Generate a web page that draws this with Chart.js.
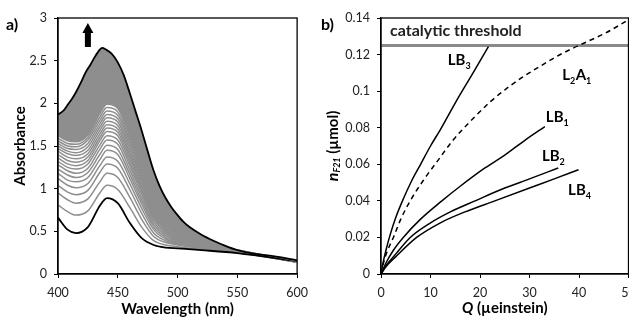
<!DOCTYPE html>
<html>
<head>
<meta charset="utf-8">
<script src="https://cdn.jsdelivr.net/npm/chart.js@4.4.1/dist/chart.umd.min.js"></script>
<style>
  html, body { margin: 0; padding: 0; background: #fff; overflow: hidden; width: 629px; height: 319px; }
  canvas { position: absolute; top: 0; }
  #chartA { left: 0; }
  #chartB { left: 315px; }
  .panel { position: absolute; font: bold 16px Lato, sans-serif; line-height: 16px; color: #000; }
</style>
</head>
<body>
<canvas id="chartA" width="315" height="319"></canvas>
<canvas id="chartB" width="330" height="319"></canvas>
<div class="panel" style="left:6px; top:16px;">a)</div>
<div class="panel" style="left:321px; top:16px;">b)</div>
<script>
// ---- panel a : absorbance spectra ----
const wlGrid = [400, 408, 415, 425, 435, 441, 450, 460, 470, 480, 490, 500, 520, 550, 600];
const absFirst = [0.66, 0.52, 0.48, 0.55, 0.80, 0.89, 0.83, 0.60, 0.42, 0.34, 0.31, 0.30, 0.28, 0.245, 0.15];
const absGray = [
  [0.81, 0.73, 0.69, 0.74, 0.95, 1.04, 0.99, 0.78, 0.55, 0.39, 0.34, 0.32, 0.29, 0.25, 0.14],
  [0.95, 0.87, 0.83, 0.88, 1.08, 1.18, 1.13, 0.90, 0.64, 0.44, 0.37, 0.34, 0.30, 0.255, 0.14],
  [1.04, 0.96, 0.93, 0.98, 1.19, 1.29, 1.24, 0.99, 0.71, 0.48, 0.39, 0.35, 0.305, 0.255, 0.14],
  [1.12, 1.04, 1.01, 1.06, 1.27, 1.37, 1.32, 1.06, 0.77, 0.52, 0.41, 0.36, 0.31, 0.26, 0.14],
  [1.18, 1.10, 1.08, 1.13, 1.34, 1.45, 1.40, 1.12, 0.82, 0.55, 0.43, 0.37, 0.31, 0.26, 0.14],
  [1.23, 1.16, 1.13, 1.19, 1.40, 1.51, 1.46, 1.17, 0.86, 0.58, 0.45, 0.38, 0.32, 0.26, 0.14],
  [1.28, 1.21, 1.18, 1.24, 1.46, 1.57, 1.52, 1.22, 0.90, 0.61, 0.47, 0.39, 0.32, 0.265, 0.14],
  [1.32, 1.25, 1.23, 1.29, 1.51, 1.62, 1.57, 1.27, 0.94, 0.64, 0.49, 0.40, 0.33, 0.265, 0.14],
  [1.36, 1.29, 1.27, 1.33, 1.56, 1.67, 1.62, 1.31, 0.97, 0.66, 0.50, 0.41, 0.33, 0.27, 0.14],
  [1.40, 1.33, 1.31, 1.37, 1.60, 1.71, 1.66, 1.35, 1.00, 0.68, 0.52, 0.42, 0.34, 0.27, 0.14],
  [1.44, 1.37, 1.35, 1.41, 1.64, 1.75, 1.70, 1.39, 1.03, 0.70, 0.53, 0.43, 0.34, 0.27, 0.14],
  [1.47, 1.41, 1.39, 1.45, 1.68, 1.79, 1.74, 1.42, 1.06, 0.72, 0.54, 0.44, 0.35, 0.27, 0.14],
  [1.50, 1.44, 1.42, 1.49, 1.72, 1.83, 1.78, 1.46, 1.09, 0.74, 0.56, 0.45, 0.35, 0.275, 0.14],
  [1.53, 1.47, 1.46, 1.53, 1.76, 1.87, 1.82, 1.50, 1.12, 0.76, 0.57, 0.46, 0.36, 0.275, 0.14],
  [1.56, 1.50, 1.49, 1.57, 1.80, 1.91, 1.86, 1.54, 1.15, 0.78, 0.58, 0.47, 0.36, 0.28, 0.145],
  [1.59, 1.53, 1.52, 1.60, 1.84, 1.95, 1.90, 1.57, 1.18, 0.80, 0.60, 0.48, 0.37, 0.28, 0.145],
  [1.62, 1.56, 1.55, 1.63, 1.88, 1.99, 1.94, 1.61, 1.21, 0.82, 0.61, 0.49, 0.37, 0.28, 0.145]
];
const wlLast = [400, 405, 408, 412, 415, 419, 423, 427, 431, 435, 437, 440, 445, 450, 455, 460, 465, 470, 475, 480, 485, 490, 495, 500, 505, 510, 520, 530, 540, 550, 565, 580, 600];
const absLast = [1.87, 1.92, 1.98, 2.06, 2.13, 2.24, 2.36, 2.45, 2.55, 2.63, 2.65, 2.63, 2.58, 2.48, 2.33, 2.12, 1.90, 1.68, 1.44, 1.21, 1.03, 0.89, 0.78, 0.69, 0.61, 0.55, 0.46, 0.39, 0.33, 0.28, 0.235, 0.21, 0.16];
const aTicksX = [400, 450, 500, 550, 600];
const aTicksY = [0, 0.5, 1, 1.5, 2, 2.5, 3];

// ---- panel b : n_F21 vs Q ----
const qLB3 = [0, 0.4, 1, 1.8, 3, 4.5, 6.2, 8, 10, 12, 15.3, 18.6, 21.7];
const nLB3 = [0, 0.006, 0.013, 0.021, 0.031, 0.041, 0.051, 0.06, 0.07, 0.079, 0.095, 0.11, 0.1243];
const qL2A1 = [0, 0.5, 1.2, 2.5, 4, 5.9, 8.5, 11.2, 14.5, 18.6, 22, 25.4, 28.5, 32.1, 35.5, 38.8, 41.6, 45.5, 50];
const nL2A1 = [0, 0.006, 0.012, 0.02, 0.03, 0.04, 0.051, 0.061, 0.073, 0.085, 0.094, 0.1015, 0.1075, 0.1135, 0.119, 0.1235, 0.127, 0.132, 0.139];
const qLB1 = [0, 1, 2.5, 4.5, 8, 12.3, 16, 21, 25, 29, 33.1];
const nLB1 = [0, 0.006, 0.013, 0.02, 0.03, 0.04, 0.048, 0.058, 0.065, 0.073, 0.0806];
const qLB2 = [0, 1, 3, 5.9, 10, 14, 19, 25, 30, 35.8];
const nLB2 = [0, 0.0045, 0.011, 0.02, 0.028, 0.034, 0.04, 0.047, 0.052, 0.058];
const qLB4 = [0, 1, 3, 7.2, 12, 17, 23, 30, 35, 39.9];
const nLB4 = [0, 0.004, 0.0095, 0.02, 0.028, 0.034, 0.04, 0.047, 0.052, 0.057];
const threshold = 0.125;
const bTicksX = [0, 10, 20, 30, 40, 50];
const bTicksY = [0, 0.02, 0.04, 0.06, 0.08, 0.1, 0.12, 0.14];

const GRAY = '#8e8e8e';
const FONT = 'Lato, sans-serif';
Chart.defaults.font.family = FONT;
Chart.defaults.color = '#222';

const pts = (xs, ys) => xs.map((x, i) => ({ x: x, y: ys[i] }));

const chartAreaBorder = {
    id: 'chartAreaBorder',
    afterDatasetsDraw(chart) {
        const { ctx, chartArea: { left, top, width, height } } = chart;
        ctx.save();
        ctx.strokeStyle = '#000';
        ctx.lineWidth = 1.3;
        ctx.strokeRect(left, top, width, height);
        ctx.restore();
    }
};

function axis(ticks, size, extra) {
    return Object.assign({
        type: 'linear',
        min: ticks[0],
        max: ticks[ticks.length - 1],
        afterBuildTicks: (s) => { s.ticks = ticks.map(v => ({ value: v })); },
        afterFit: (s) => { if (s.isHorizontal()) s.height = size; else s.width = size; },
        grid: { display: true, drawOnChartArea: false, drawTicks: true, tickLength: 4, color: '#000' },
        border: { display: true, color: '#000', width: 1.3 },
        ticks: { font: { size: 12.5 }, color: '#222', padding: 7, callback: (v) => String(+v.toFixed(3)) }
    }, extra);
}

// arrow above the spectra
const upArrow = {
    id: 'upArrow',
    afterDraw(chart) {
        const { ctx, scales: { x, y } } = chart;
        const cx = x.getPixelForValue(425);
        const yTop = y.getPixelForValue(2.94);
        const yBot = y.getPixelForValue(2.66);
        ctx.save();
        ctx.fillStyle = '#000';
        ctx.fillRect(cx - 3, yTop + 9, 6, yBot - yTop - 9);
        ctx.beginPath();
        ctx.moveTo(cx, yTop);
        ctx.lineTo(cx + 5.5, yTop + 10);
        ctx.lineTo(cx - 5.5, yTop + 10);
        ctx.closePath();
        ctx.fill();
        ctx.restore();
    }
};

const grayIndexTop = 2 + absGray.length - 1;
const datasetsA = [
    { data: pts(wlLast, absLast), borderColor: '#000', borderWidth: 1.8, fill: { target: grayIndexTop }, backgroundColor: GRAY },
    { data: pts(wlGrid, absFirst), borderColor: '#000', borderWidth: 1.8, fill: false }
].concat(absGray.map(row => ({ data: pts(wlGrid, row), borderColor: GRAY, borderWidth: 1.5, fill: false })));

new Chart(document.getElementById('chartA'), {
    type: 'line',
    data: { datasets: datasetsA },
    options: {
        responsive: false,
        animation: false,
        devicePixelRatio: 1,
        layout: { padding: { top: 18, right: 8, left: 0, bottom: 0 } },
        elements: { point: { radius: 0 }, line: { cubicInterpolationMode: 'monotone' } },
        plugins: { legend: { display: false }, tooltip: { enabled: false } },
        scales: {
            x: axis(aTicksX, 45, { title: { display: true, text: 'Wavelength (nm)', color: '#000', font: { size: 15, weight: 'bold' }, padding: { top: 0, bottom: 1 } } }),
            y: axis(aTicksY, 58, { title: { display: true, text: 'Absorbance', color: '#000', font: { size: 15, weight: 'bold' }, padding: { top: 11, bottom: 0 } } })
        }
    },
    plugins: [chartAreaBorder, upArrow]
});

// ---- text annotations for panel b ----
const curveLabels = [
    { parts: [['LB', 0], ['3', 1]], q: 13.5, n: 0.1143 },
    { parts: [['L', 0], ['2', 1], ['A', 0], ['1', 1]], q: 36.6, n: 0.1061 },
    { parts: [['LB', 0], ['1', 1]], q: 33.3, n: 0.0831 },
    { parts: [['LB', 0], ['2', 1]], q: 32.5, n: 0.0618 },
    { parts: [['LB', 0], ['4', 1]], q: 37.8, n: 0.0432 }
];

function drawParts(ctx, parts, x, y) {
    let cx = x;
    parts.forEach(([t, sub]) => {
        ctx.font = sub ? 'bold 9px ' + FONT : 'bold 15px ' + FONT;
        ctx.fillText(t, cx, sub ? y + 4 : y);
        cx += ctx.measureText(t).width + (sub ? 0.5 : 0);
    });
}

function drawRich(ctx, parts, cx, cy) {
    // parts: [text, font, dy]
    let total = 0;
    parts.forEach(p => { ctx.font = p[1]; total += ctx.measureText(p[0]).width; });
    let x = cx - total / 2;
    parts.forEach(p => {
        ctx.font = p[1];
        ctx.fillText(p[0], x, cy + (p[2] || 0));
        x += ctx.measureText(p[0]).width;
    });
}

const panelBText = {
    id: 'panelBText',
    afterDraw(chart) {
        const { ctx, chartArea, scales: { x, y } } = chart;
        ctx.save();
        ctx.fillStyle = '#000';
        ctx.textBaseline = 'alphabetic';
        curveLabels.forEach(l => drawParts(ctx, l.parts, x.getPixelForValue(l.q), y.getPixelForValue(l.n)));

        ctx.fillStyle = '#222';
        ctx.font = 'bold 16px ' + FONT;
        ctx.fillText('catalytic threshold', chartArea.left + 9, y.getPixelForValue(threshold) - 9);

        ctx.fillStyle = '#000';
        ctx.textBaseline = 'middle';
        const midX = (chartArea.left + chartArea.right) / 2;
        drawRich(ctx, [['Q', 'italic bold 15px ' + FONT], [' (µeinstein)', 'bold 15px ' + FONT]], midX, 308);

        ctx.translate(18, (chartArea.top + chartArea.bottom) / 2);
        ctx.rotate(-Math.PI / 2);
        drawRich(ctx, [['n', 'italic bold 16px ' + FONT], ['F21', 'italic bold 9px ' + FONT, 4], [' (µmol)', 'bold 15px ' + FONT]], 0, 0);
        ctx.restore();
    }
};

const lineB = (xs, ys, extra) => Object.assign({ data: pts(xs, ys), borderColor: '#000', borderWidth: 1.5, fill: false }, extra);

new Chart(document.getElementById('chartB'), {
    type: 'line',
    data: {
        datasets: [
            lineB(qLB3, nLB3),
            lineB(qL2A1, nL2A1, { borderDash: [5, 4] }),
            lineB(qLB1, nLB1),
            lineB(qLB2, nLB2),
            lineB(qLB4, nLB4),
            lineB([0, 50], [threshold, threshold], { borderColor: '#8a8a8a', borderWidth: 3 })
        ]
    },
    options: {
        responsive: false,
        animation: false,
        devicePixelRatio: 1,
        layout: { padding: { top: 18, right: 16.5, left: 0, bottom: 0 } },
        elements: { point: { radius: 0 }, line: { cubicInterpolationMode: 'monotone' } },
        plugins: { legend: { display: false }, tooltip: { enabled: false } },
        scales: {
            x: axis(bTicksX, 45),
            y: axis(bTicksY, 66)
        }
    },
    plugins: [chartAreaBorder, panelBText]
});
</script>
</body>
</html>
